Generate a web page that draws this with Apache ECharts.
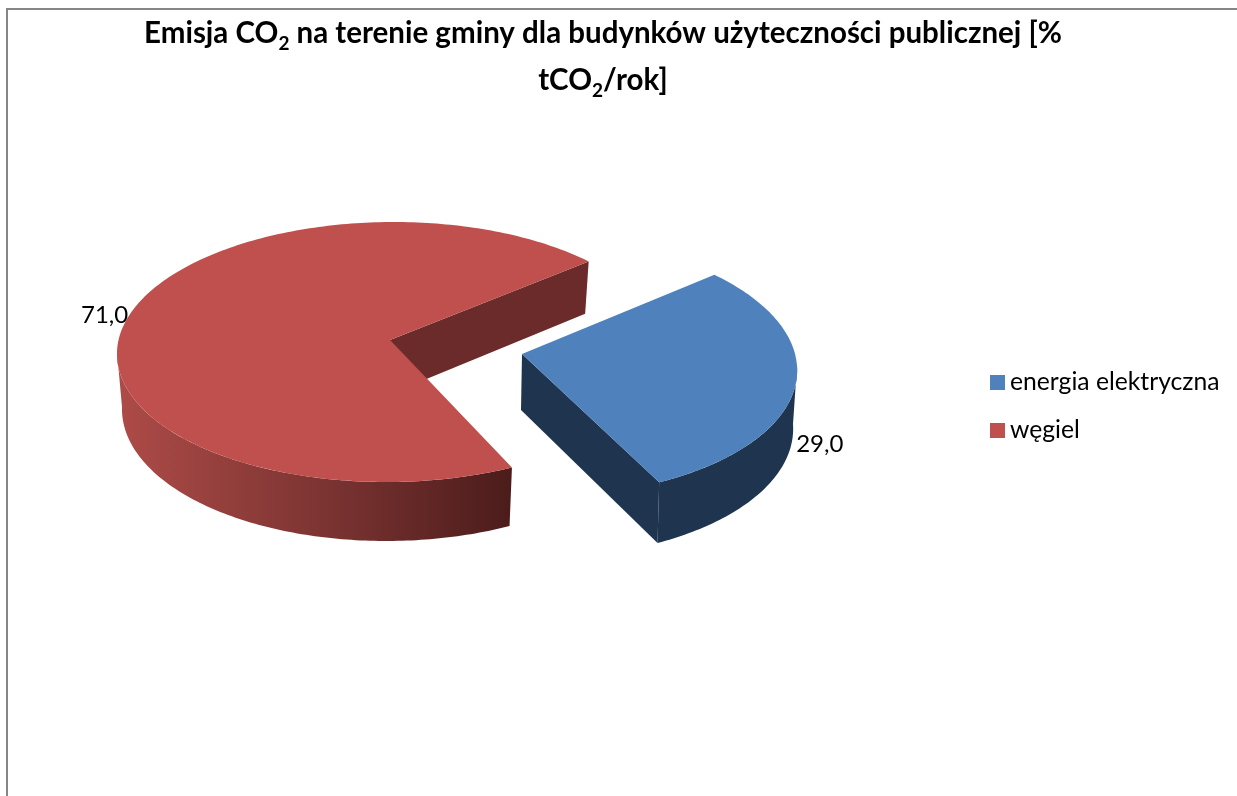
<!DOCTYPE html>
<html>
<head>
<meta charset="utf-8">
<title>Emisja CO2</title>
<style>
  html, body { margin: 0; padding: 0; background: #fff; overflow: hidden; }
  #chart { width: 1237px; height: 796px; }
</style>
<script src="https://cdn.jsdelivr.net/npm/echarts@6/dist/echarts.min.js"></script>
</head>
<body>
<div id="chart"></div>
<script>
var categories = ['energia elektryczna', 'węgiel']
var shares = [29, 71]
var titleLines = ['Emisja CO{sub|2} na terenie gminy dla budynków użyteczności publicznej [%', 'tCO{sub|2}/rok]']

// wygląd i położenie wycinków (perspektywa)
var startAngle = 39
var warp = 6.6
var looks = [
  {
    top: '#4F81BD', wall: '#1F344F', side: '#1F344F',
    c: [527, 366], r: [270, 131], cb: [527, 424], rb: [266, 134], shear: 0.07,
    apex: [522, 354], apexB: [521, 410], labelAt: [0, 63], align: 'left'
  },
  {
    top: '#C0504D', wall: '#6B2B2B',
    side: {
      type: 'linear', x: 0, y: 0, x2: 1, y2: 0,
      colorStops: [
        { offset: 0, color: '#AE4B48' },
        { offset: 0.5, color: '#7E3533' },
        { offset: 1, color: '#4B1C1B' }
      ]
    },
    c: [390, 352], r: [273, 130], cb: [390, 407], rb: [268, 134], shear: -0.03,
    apex: [390, 340], apexB: [390, 394], labelAt: [-6, 7], align: 'right'
  }
]

var total = shares.reduce(function (a, b) { return a + b }, 0)

// kąt na ekranie (przód koła jest rozciągnięty przez perspektywę)
function warped(deg) {
  return deg + warp * Math.cos(deg * Math.PI / 180)
}

function onEllipse(c, r, shear, screenDeg) {
  var t = screenDeg * Math.PI / 180
  var dy = -r[1] * Math.sin(t)
  return [c[0] + r[0] * Math.cos(t) + shear * dy, c[1] + dy]
}

function arc(c, r, shear, from, to) {
  var pts = []
  var n = Math.ceil(Math.abs(to - from))
  for (var i = 0; i <= n; i++) {
    pts.push(onEllipse(c, r, shear, from + (to - from) * i / n))
  }
  return pts
}

function sliceRender(index) {
  return function (params, api) {
    var look = looks[index]
    var before = shares.slice(0, index).reduce(function (a, b) { return a + b }, 0)
    var a0 = startAngle - before / total * 360
    var a1 = a0 - api.value(0) / total * 360
    var s0 = warped(a0)
    var s1 = warped(a1)
    var children = []

    // ściana boczna po łuku, tylko przednia połowa koła
    var sideFrom = Math.min(s0, 0)
    var sideTo = Math.max(s1, -180)
    var topSide = arc(look.c, look.r, look.shear, sideFrom, sideTo)
    var botSide = arc(look.cb, look.rb, look.shear, sideTo, sideFrom)
    children.push({
      type: 'polygon',
      shape: { points: topSide.concat(botSide) },
      style: { fill: look.side }
    })

    // ściana przy wierzchołku
    children.push({
      type: 'polygon',
      shape: {
        points: [
          look.apex,
          onEllipse(look.c, look.r, look.shear, s1),
          onEllipse(look.cb, look.rb, look.shear, s1),
          look.apexB
        ]
      },
      style: { fill: look.wall }
    })

    // górna powierzchnia
    children.push({
      type: 'polygon',
      shape: { points: [look.apex].concat(arc(look.c, look.r, look.shear, s0, s1)) },
      style: { fill: look.top }
    })

    var mid = onEllipse(look.c, look.r, look.shear, warped((a0 + a1) / 2))
    children.push({
      type: 'text',
      x: mid[0] + look.labelAt[0],
      y: mid[1] + look.labelAt[1],
      style: {
        text: api.value(0).toFixed(1).replace('.', ','),
        fill: '#000',
        font: '24px Lato',
        align: look.align,
        verticalAlign: 'middle'
      }
    })
    return { type: 'group', children: children }
  }
}

var chart = echarts.init(document.getElementById('chart'), null, { renderer: 'canvas' })

chart.setOption({
  animation: false,
  backgroundColor: '#fff',
  title: {
    text: titleLines.join('\n'),
    left: 598,
    top: 5,
    textAlign: 'center',
    textStyle: {
      fontFamily: 'Lato',
      fontWeight: 'bold',
      fontSize: 29.5,
      color: '#000',
      lineHeight: 47,
      rich: {
        sub: { fontFamily: 'Lato', fontWeight: 'bold', fontSize: 19, verticalAlign: 'bottom', lineHeight: 30, padding: [0, 0, 4, 0], color: '#000' }
      }
    }
  },
  legend: {
    left: 990,
    top: 370,
    padding: 0,
    orient: 'vertical',
    icon: 'rect',
    itemWidth: 15,
    itemHeight: 15,
    itemGap: 23,
    data: categories,
    selectedMode: false,
    textStyle: { fontFamily: 'Lato', fontSize: 24.7, color: '#000', padding: 0 }
  },
  graphic: [
    {
      type: 'rect',
      silent: true,
      z: -1,
      shape: { x: 7, y: 9, width: 1400, height: 1000 },
      style: { fill: 'none', stroke: '#868686', lineWidth: 2 }
    }
  ],
  series: categories.map(function (name, i) {
    return {
      name: name,
      type: 'custom',
      coordinateSystem: 'none',
      silent: true,
      itemStyle: { color: looks[i].top },
      renderItem: sliceRender(i),
      data: [[shares[i]]]
    }
  })
})
</script>
</body>
</html>
